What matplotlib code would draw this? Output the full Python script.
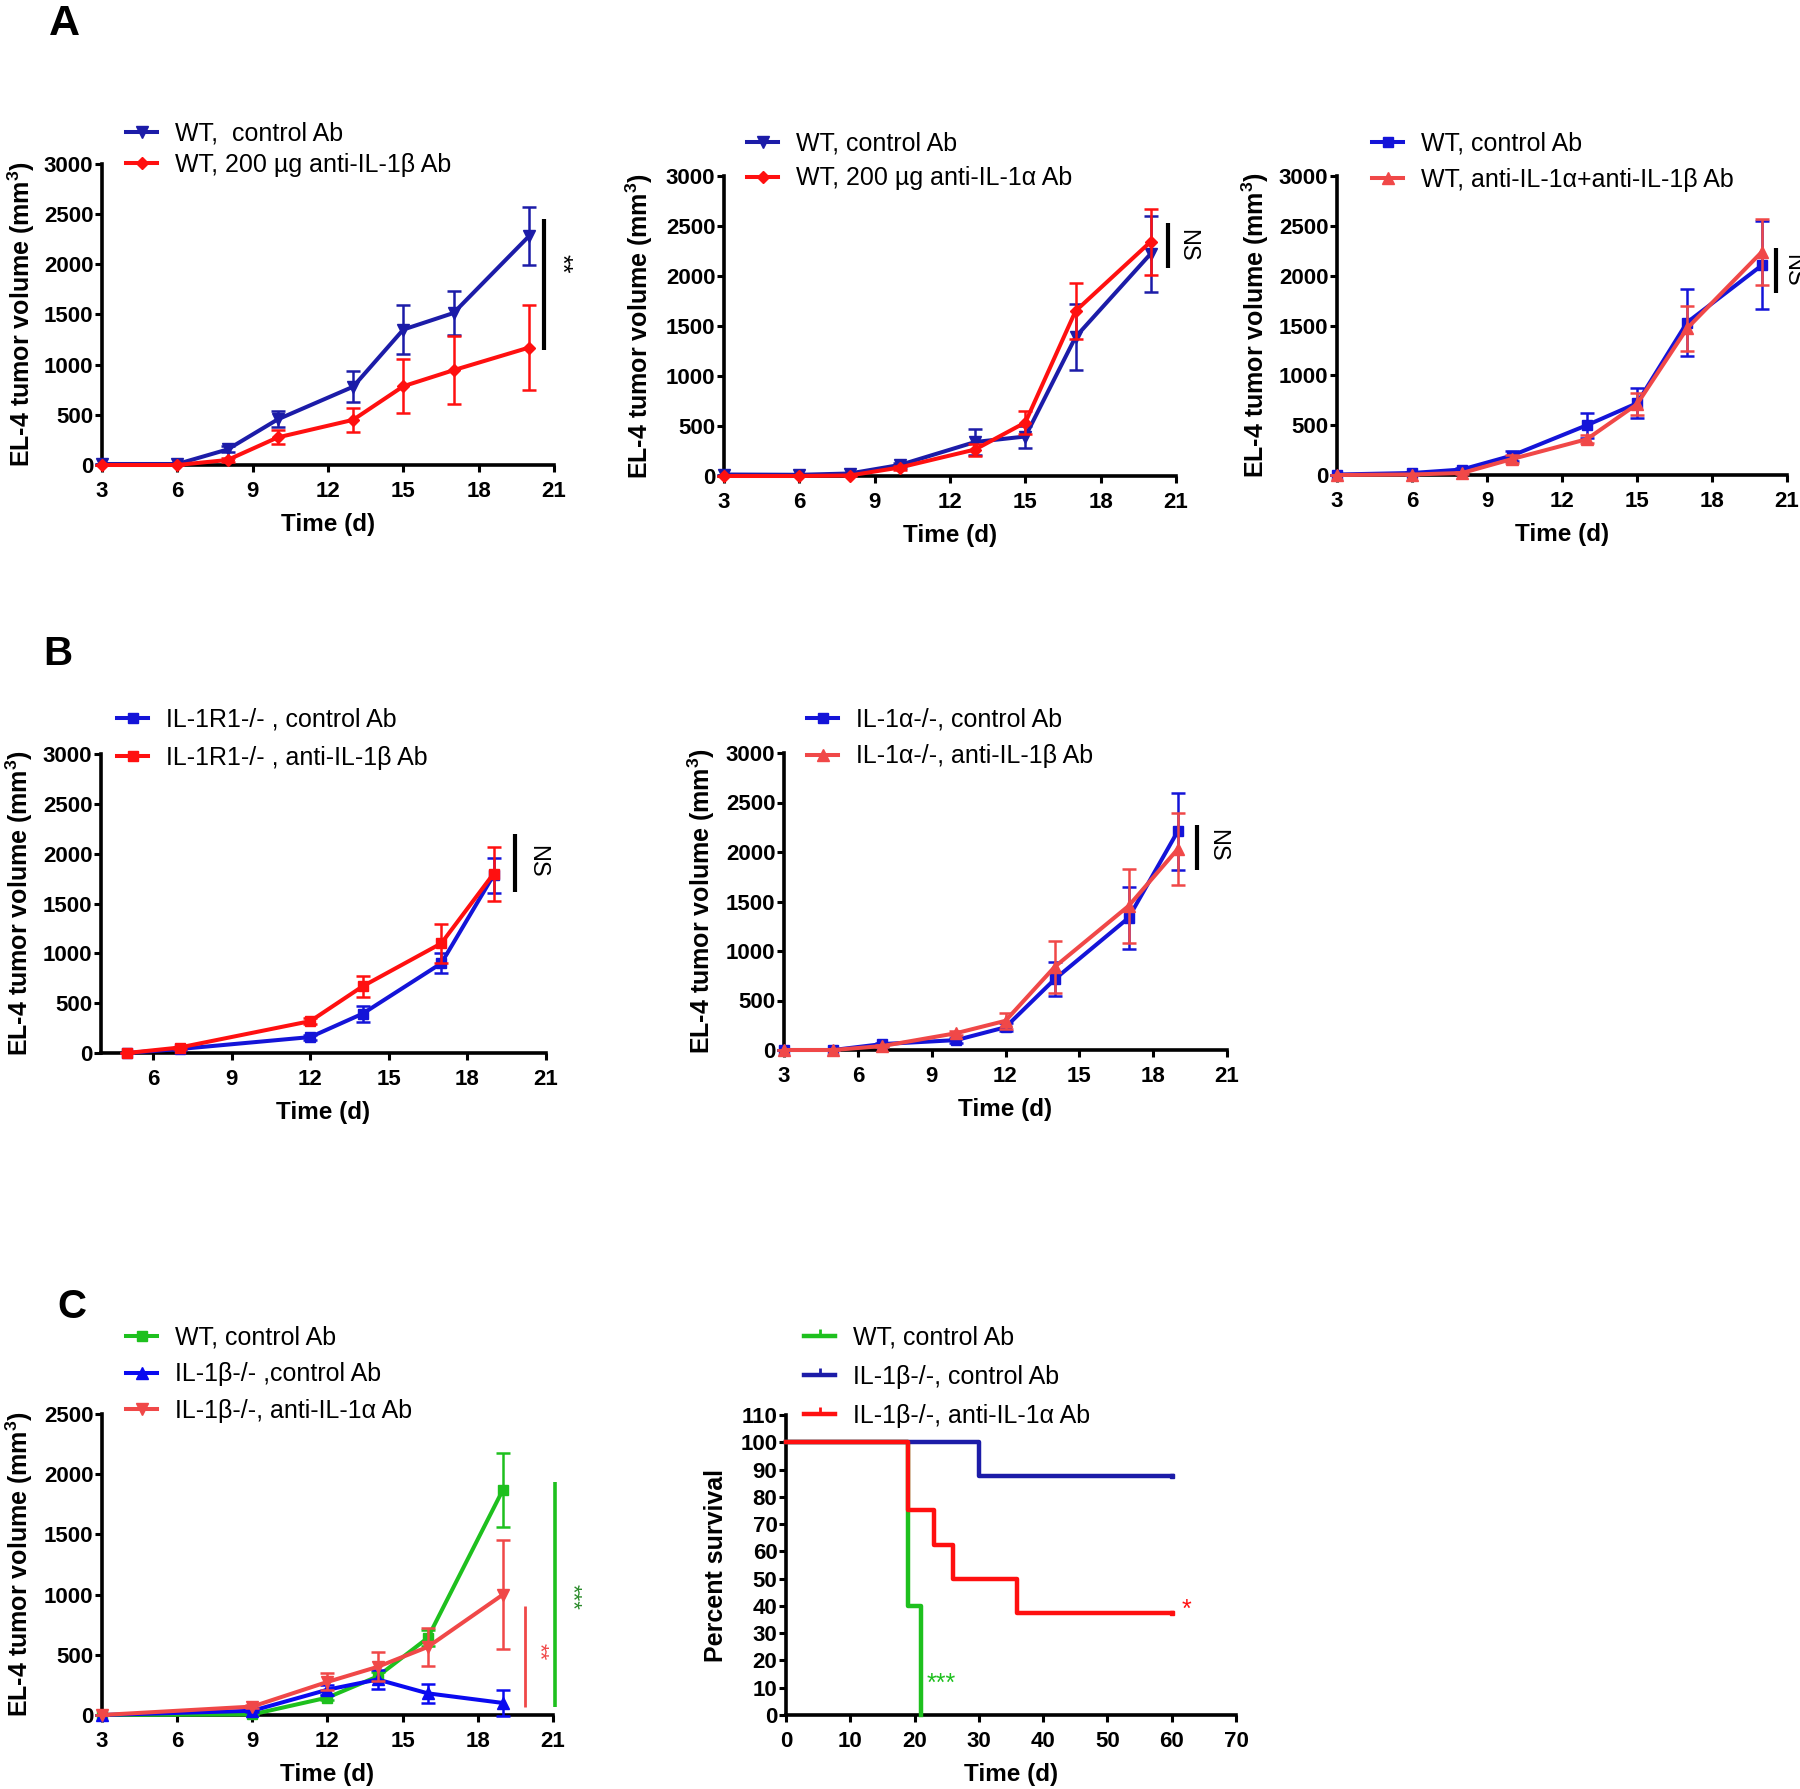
import matplotlib
matplotlib.use('Agg')
import matplotlib.pyplot as plt
from matplotlib.lines import Line2D

plt.rcParams['font.family'] = ['Liberation Sans', 'DejaVu Sans']
plt.rcParams['mathtext.fontset'] = 'custom'
plt.rcParams['mathtext.rm'] = 'Liberation Sans'
plt.rcParams['mathtext.bf'] = 'Liberation Sans:bold'

# ---------------- data ----------------
# Panel A1
a1_days = [3, 6, 8, 10, 13, 15, 17, 20]
a1_ctrl = [10, 10, 155, 455, 780, 1350, 1515, 2280]
a1_ctrl_err = [0, 0, 30, 80, 155, 240, 220, 290]
a1_anti = [0, 0, 50, 275, 450, 785, 945, 1170]
a1_anti_err = [0, 0, 20, 70, 120, 270, 340, 420]
a1_labels = ["WT,  control Ab", "WT, 200 µg anti-IL-1β Ab"]

# Panel A2
a2_days = [3, 6, 8, 10, 13, 15, 17, 20]
a2_ctrl = [15, 12, 25, 110, 340, 395, 1390, 2225]
a2_ctrl_err = [0, 0, 10, 25, 130, 110, 330, 380]
a2_anti = [0, 0, 5, 85, 265, 535, 1650, 2345]
a2_anti_err = [0, 0, 5, 20, 60, 115, 280, 330]
a2_labels = ["WT, control Ab", "WT, 200 µg anti-IL-1α Ab"]

# Panel A3
a3_days = [3, 6, 8, 10, 13, 15, 17, 20]
a3_ctrl = [5, 20, 55, 195, 500, 720, 1530, 2105]
a3_ctrl_err = [0, 10, 15, 50, 125, 150, 335, 440]
a3_anti = [0, 5, 20, 160, 360, 710, 1470, 2240]
a3_anti_err = [0, 5, 10, 40, 40, 110, 225, 330]
a3_labels = ["WT, control Ab", "WT, anti-IL-1α+anti-IL-1β Ab"]

# Panel B1
b1_days = [5, 7, 12, 14, 17, 19]
b1_ctrl = [0, 40, 160, 395, 900, 1785]
b1_ctrl_err = [0, 10, 25, 80, 100, 175]
b1_anti = [0, 55, 320, 670, 1100, 1800]
b1_anti_err = [0, 10, 30, 105, 195, 270]
b1_labels = ["IL-1R1-/- , control Ab", "IL-1R1-/- , anti-IL-1β Ab"]

# Panel B2
b2_days = [3, 5, 7, 10, 12, 14, 17, 19]
b2_ctrl = [0, 0, 60, 100, 230, 715, 1335, 2210]
b2_ctrl_err = [0, 0, 15, 25, 40, 170, 310, 390]
b2_anti = [0, 0, 40, 170, 295, 840, 1455, 2030]
b2_anti_err = [0, 0, 10, 20, 80, 265, 375, 360]
b2_labels = ["IL-1α-/-, control Ab", "IL-1α-/-, anti-IL-1β Ab"]

# Panel C1
c1_days = [3, 9, 12, 14, 16, 19]
c1_wt = [0, 5, 145, 320, 640, 1870]
c1_wt_err = [0, 5, 20, 40, 70, 305]
c1_ko = [0, 35, 210, 295, 180, 100]
c1_ko_err = [0, 10, 40, 80, 80, 105]
c1_ko_anti = [0, 70, 275, 400, 565, 1000]
c1_ko_anti_err = [0, 15, 70, 120, 155, 450]
c1_labels = ["WT, control Ab", "IL-1β-/- ,control Ab", "IL-1β-/-, anti-IL-1α Ab"]

# Panel C2 (survival)
c2_wt_t = [0, 19, 21]
c2_wt_s = [100, 40, 0]
c2_ko_t = [0, 30, 60]
c2_ko_s = [100, 87.5, 87.5]
c2_koa_t = [0, 19, 23, 26, 36, 60]
c2_koa_s = [100, 75, 62.5, 50, 37.5, 37.5]
c2_labels = ["WT, control Ab", "IL-1β-/-, control Ab", "IL-1β-/-, anti-IL-1α Ab"]

growth_ticks = [0, 500, 1000, 1500, 2000, 2500, 3000]
day_ticks = [3, 6, 9, 12, 15, 18, 21]

# ---------------- figure ----------------
W, H = 1800, 1789
fig = plt.figure(figsize=(W / 100, H / 100), dpi=100)

NAVY = '#1c1ca8'
BLUE = '#1414d8'
BBLUE = '#0a0af0'
RED = '#ff1010'
LRED = '#f04848'
GREEN = '#1ec01e'

YLAB = 'EL-4 tumor volume (mm$^{\\mathbf{3}}$)'
LEG_FS = 18


def add_ax(x0, x1, ytop, ybot):
    ax = fig.add_axes([x0 / W, 1 - ybot / H, (x1 - x0) / W, (ybot - ytop) / H])
    for s in ['top', 'right']:
        ax.spines[s].set_visible(False)
    for s in ['left', 'bottom']:
        ax.spines[s].set_linewidth(2.6)
    ax.tick_params(direction='out', length=5.2, width=2.2, labelsize=16)
    ax.tick_params(axis='x', pad=6.5)
    ax.tick_params(axis='y', pad=1)
    ax._px = (x0, x1, ytop, ybot)
    return ax


def style_labels(ax, xlabel, ylabel, ylab_off_px):
    x0, x1, ytop, ybot = ax._px
    ax.set_xlabel(xlabel, fontsize=17.5, fontweight='bold')
    ax.set_ylabel(ylabel, fontsize=18, fontweight='bold')
    ax.xaxis.set_label_coords(0.5, -48 / (ybot - ytop))
    ax.yaxis.set_label_coords(ylab_off_px / (x1 - x0), 0.5)
    for lab in ax.get_xticklabels() + ax.get_yticklabels():
        lab.set_fontweight('bold')


def series(ax, x, y, err, color, marker, ms, label, z):
    ax.errorbar(x, y, yerr=err, fmt='none', ecolor=color, elinewidth=1.8,
                capsize=4.8, capthick=1.8, clip_on=False, zorder=z)
    ln, = ax.plot(x, y, color=color, lw=2.9, marker=marker, ms=ms,
                  clip_on=False, zorder=z + 0.5, label=label)
    return ln


def legend_at(ax, handles, x_px, row1_px, spacing):
    ax.legend(handles=handles, loc='upper left',
              bbox_to_anchor=(x_px / W, 1 - (row1_px - 12) / H),
              bbox_transform=fig.transFigure, frameon=False, fontsize=LEG_FS,
              borderpad=0, borderaxespad=0, handlelength=1.25,
              handletextpad=0.7, labelspacing=spacing)


def sig(ax, x, y0, y1, color='black', lw=3.0):
    ax.plot([x, x], [y0, y1], color=color, lw=lw, clip_on=False,
            solid_capstyle='butt')


def growth(ax, ylim=(0, 3000), yticks=growth_ticks, xlim=(3, 21), xticks=day_ticks):
    ax.set_xlim(*xlim)
    ax.set_ylim(*ylim)
    ax.set_xticks(xticks)
    ax.set_yticks(yticks)


# ---- A1 ----
ax = add_ax(102, 554, 164, 465)
growth(ax)
h1 = series(ax, a1_days, a1_ctrl, a1_ctrl_err, NAVY, 'v', 8.5, a1_labels[0], 3)
h2 = series(ax, a1_days, a1_anti, a1_anti_err, RED, 'D', 6, a1_labels[1], 4)
sig(ax, 20.62, 1150, 2455)
ax.text(21.25, 2009, '**', rotation=270, ha='center', va='center', fontsize=18)
style_labels(ax, 'Time (d)', YLAB, -65)
legend_at(ax, [h1, h2], 126, 134, 0.28)

# ---- A2 ----
ax = add_ax(724, 1176, 176, 476)
growth(ax)
h1 = series(ax, a2_days, a2_ctrl, a2_ctrl_err, NAVY, 'v', 8.5, a2_labels[0], 3)
h2 = series(ax, a2_days, a2_anti, a2_anti_err, RED, 'D', 6, a2_labels[1], 4)
sig(ax, 20.67, 2083, 2533)
ax.text(21.45, 2310, 'NS', rotation=270, ha='center', va='center', fontsize=17)
style_labels(ax, 'Time (d)', YLAB, -69)
legend_at(ax, [h1, h2], 747, 144, 0.42)

# ---- A3 ----
ax = add_ax(1337, 1787, 176, 475)
growth(ax)
h1 = series(ax, a3_days, a3_ctrl, a3_ctrl_err, BLUE, 's', 7.5, a3_labels[0], 3)
h2 = series(ax, a3_days, a3_anti, a3_anti_err, LRED, '^', 8, a3_labels[1], 4)
sig(ax, 20.57, 1823, 2281)
ax.text(21.2, 2057, 'NS', rotation=270, ha='center', va='center', fontsize=17)
style_labels(ax, 'Time (d)', YLAB, -66)
legend_at(ax, [h1, h2], 1372, 144, 0.48)

# ---- B1 ----
ax = add_ax(101, 546, 754, 1053)
growth(ax, xlim=(4, 21), xticks=[6, 9, 12, 15, 18, 21])
h1 = series(ax, b1_days, b1_ctrl, b1_ctrl_err, BLUE, 's', 7.5, b1_labels[0], 3)
h2 = series(ax, b1_days, b1_anti, b1_anti_err, RED, 's', 7.5, b1_labels[1], 4)
sig(ax, 19.82, 1617, 2196)
ax.text(20.67, 1919, 'NS', rotation=270, ha='center', va='center', fontsize=17)
style_labels(ax, 'Time (d)', YLAB, -66)
legend_at(ax, [h1, h2], 117, 720, 0.55)

# ---- B2 ----
ax = add_ax(784, 1227, 753, 1050)
growth(ax)
h1 = series(ax, b2_days, b2_ctrl, b2_ctrl_err, BLUE, 's', 7.5, b2_labels[0], 3)
h2 = series(ax, b2_days, b2_anti, b2_anti_err, LRED, '^', 8, b2_labels[1], 4)
sig(ax, 19.79, 1816, 2270)
ax.text(20.61, 2069, 'NS', rotation=270, ha='center', va='center', fontsize=17)
style_labels(ax, 'Time (d)', YLAB, -67)
legend_at(ax, [h1, h2], 807, 720, 0.5)

# ---- C1 ----
ax = add_ax(102, 553, 1414, 1715)
growth(ax, ylim=(0, 2500), yticks=[0, 500, 1000, 1500, 2000, 2500])
h1 = series(ax, c1_days, c1_wt, c1_wt_err, GREEN, 's', 7.5, c1_labels[0], 3)
h2 = series(ax, c1_days, c1_ko, c1_ko_err, BBLUE, '^', 8, c1_labels[1], 4)
h3 = series(ax, c1_days, c1_ko_anti, c1_ko_anti_err, LRED, 'v', 8.5, c1_labels[2], 5)
sig(ax, 19.9, 64, 906, color=LRED, lw=2.0)
ax.text(20.45, 527, '**', rotation=270, ha='center', va='center', fontsize=16, color=LRED)
sig(ax, 21.09, 69, 1932, color=GREEN, lw=2.6)
ax.text(21.75, 984, '***', rotation=270, ha='center', va='center', fontsize=16, color='#2a8a2a')
style_labels(ax, 'Time (d)', YLAB, -67)
legend_at(ax, [h1, h2, h3], 126, 1338, 0.5)

# ---- C2 ----
ax = add_ax(786, 1236, 1415, 1715)
ax.set_xlim(0, 70)
ax.set_ylim(0, 110)
ax.set_xticks(range(0, 71, 10))
ax.set_yticks(range(0, 111, 10))
l1, = ax.step(c2_wt_t, c2_wt_s, where='post', color=GREEN, lw=3.2, clip_on=False, zorder=3)
l2, = ax.step(c2_ko_t, c2_ko_s, where='post', color=NAVY, lw=3.2, clip_on=False, zorder=4)
l3, = ax.step(c2_koa_t, c2_koa_s, where='post', color=RED, lw=3.2, clip_on=False, zorder=5)
ax.plot(c2_ko_t[-1:], c2_ko_s[-1:], marker='s', ms=3.5, color=NAVY, clip_on=False, zorder=4)
ax.plot(c2_koa_t[-1:], c2_koa_s[-1:], marker='s', ms=3.5, color=RED, clip_on=False, zorder=5)
ax.text(21.8, 11.5, '***', ha='left', va='center', fontsize=18, color=GREEN)
ax.text(61.5, 38.5, '*', ha='left', va='center', fontsize=18, color=RED)
style_labels(ax, 'Time (d)', 'Percent survival', -58)
hs = [Line2D([], [], color=c, lw=3.2, marker=2, ms=5, mew=2)
      for c in (GREEN, NAVY, RED)]
for hh, lab in zip(hs, c2_labels):
    hh.set_label(lab)
legend_at(ax, hs, 804, 1338, 0.6)

# ---- panel letters ----
fig.text(64 / W, 1 - 24 / H, 'A', fontsize=31, fontweight='bold', ha='center', va='center')
fig.text(58 / W, 1 - 654 / H, 'B', fontsize=29, fontweight='bold', ha='center', va='center')
fig.text(72 / W, 1 - 1307 / H, 'C', fontsize=29, fontweight='bold', ha='center', va='center')

fig.savefig('out.png', dpi=100)
